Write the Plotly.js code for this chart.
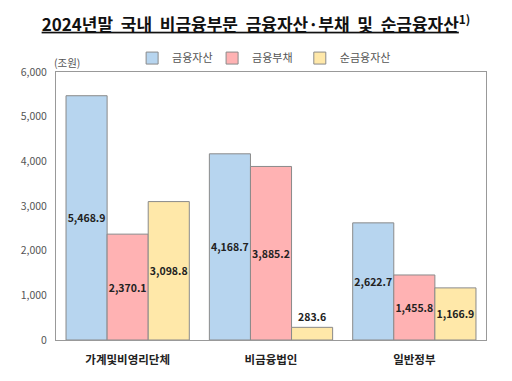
<!DOCTYPE html>
<html><head><meta charset="utf-8">
<script src="https://cdn.plot.ly/plotly-3.0.1.min.js"></script>
<style>body{margin:0;background:#fff}#c{width:512px;height:381px}</style>
</head><body><div id="c"></div>
<script>
const categories = ['가계및비영리단체', '비금융법인', '일반정부'];
const assets = [5468.9, 4168.7, 2622.7];
const liabilities = [2370.1, 3885.2, 1455.8];
const netAssets = [3098.8, 283.6, 1166.9];
const seriesNames = ['금융자산', '금융부채', '순금융자산'];
const colors = ['#B7D5EF', '#FFB2B3', '#FFE8A9'];
const titleText = '2024년말\u00A0\u00A0국내\u00A0\u00A0비금융부문\u00A0\u00A0금융자산·부채\u00A0\u00A0및\u00A0\u00A0순금융자산';

const F = '"Noto Sans CJK KR", "Noto Sans", sans-serif';
const legendIds = ['legend', 'legend2', 'legend3'];
const legendX = [0.177, 0.363, 0.567];
function fmt(v){ return v.toLocaleString('en-US',{minimumFractionDigits:1,maximumFractionDigits:1}); }
function mk(vals, i){
  return {
    type:'bar', x:categories, y:vals, name:seriesNames[i], legend:legendIds[i],
    marker:{color:colors[i], line:{color:'#8a8a8a', width:1}},
    text: vals.map(fmt),
    textposition: vals.map(v => v < 600 ? 'outside' : 'inside'),
    insidetextanchor:'middle', textangle:0,
    constraintext:'none', cliponaxis:false,
    textfont:{family:F, size:10.5, color:'#222', weight:700},
    hoverinfo:'skip'
  };
}
function leg(x){
  return {orientation:'h', x:x, xanchor:'left', y:1.052, yanchor:'middle',
    font:{family:F, size:11, color:'#555'}, itemwidth:30, bgcolor:'rgba(0,0,0,0)'};
}
const data = [mk(assets,0), mk(liabilities,1), mk(netAssets,2)];
const layout = {
  width:512, height:381,
  margin:{l:56, r:26, t:72, b:41},
  paper_bgcolor:'#fff', plot_bgcolor:'#fff',
  barmode:'group', bargap:0.14, bargroupgap:0,
  title:{text:'<b><u>'+titleText+'</u><sup>1)</sup></b>',
    font:{family:F, size:17, color:'#111'}, x:0.5, xanchor:'center', y:0.935, yanchor:'middle'},
  showlegend:true,
  legend:leg(legendX[0]), legend2:leg(legendX[1]), legend3:leg(legendX[2]),
  xaxis:{showline:true, linecolor:'#999', linewidth:1, mirror:true, ticks:'',
    tickfont:{family:F, size:11.5, color:'#222', weight:700}, ticklabelstandoff:9,
    showgrid:false, range:[-0.5,2.5], fixedrange:true},
  yaxis:{range:[0,6000], dtick:1000, tickformat:',d', showline:true, linecolor:'#999',
    linewidth:1, mirror:true, showgrid:false, zeroline:false, ticks:'',
    tickfont:{family:F, size:10.5, color:'#555'}, ticklabelstandoff:6},
  annotations:[{text:'(조원)', xref:'paper', yref:'paper', x:-0.01, y:1.035, xanchor:'left', yanchor:'middle',
    showarrow:false, font:{family:F, size:10.5, color:'#555'}}]
};
Plotly.newPlot('c', data, layout, {staticPlot:true, displayModeBar:false});
</script></body></html>
